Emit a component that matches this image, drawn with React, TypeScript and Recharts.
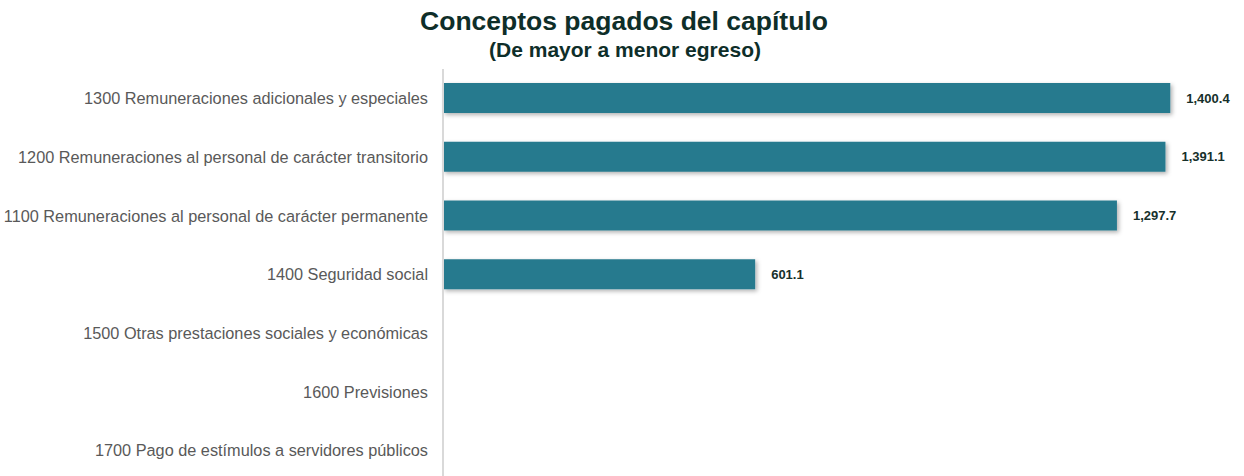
import React from 'react';
import { BarChart, Bar, XAxis, YAxis, LabelList } from 'recharts';

// Categorías (de mayor a menor egreso)
const CATEGORIES = [
  '1300 Remuneraciones adicionales y especiales',
  '1200 Remuneraciones al personal de carácter transitorio',
  '1100 Remuneraciones al personal de carácter permanente',
  '1400 Seguridad social',
  '1500 Otras prestaciones sociales y económicas',
  '1600 Previsiones',
  '1700 Pago de estímulos a servidores públicos',
];

// Monto pagado por concepto
const VALUES = [1400.4, 1391.1, 1297.7, 601.1, 0, 0, 0];

const TITLE = 'Conceptos pagados del capítulo';
const SUBTITLE = '(De mayor a menor egreso)';

const BAR_COLOR = '#287a8e';
const FONT = '"Liberation Sans", Arial, sans-serif';

const data = CATEGORIES.map((name, i) => ({ name, value: VALUES[i] }));

const formatValue = (v: any) =>
  typeof v === 'number' && v > 0
    ? v.toLocaleString('en-US', { minimumFractionDigits: 1, maximumFractionDigits: 1 })
    : '';

export default function App() {
  return (
    <div style={{ position: 'absolute', left: 0, top: 0, width: 1244, height: 476, overflow: 'hidden', background: '#fff', fontFamily: FONT }}>
      {/* filtro de sombra para las barras */}
      <svg width={0} height={0} style={{ position: 'absolute' }}>
        <defs>
          <filter id="barShadow" x="-5%" y="-30%" width="115%" height="180%">
            <feDropShadow dx="2" dy="2" stdDeviation="2" floodColor="#000" floodOpacity="0.3" />
          </filter>
        </defs>
      </svg>
      <div style={{ position: 'absolute', left: 0, width: 1248, top: 7.6, textAlign: 'center', fontWeight: 'bold', fontSize: 26.5, color: '#0e2e29', lineHeight: '26.5px', whiteSpace: 'nowrap' }}>
        {TITLE}
      </div>
      <div style={{ position: 'absolute', left: 0, width: 1250, top: 39, textAlign: 'center', fontWeight: 'bold', fontSize: 21, color: '#0e2e29', lineHeight: '21px', whiteSpace: 'nowrap' }}>
        {SUBTITLE}
      </div>
      <div style={{ position: 'absolute', left: 0, top: 0 }}>
        <BarChart
          width={1244}
          height={480}
          data={data}
          layout="vertical"
          margin={{ top: 69, right: 22, bottom: 0, left: 0 }}
          barCategoryGap={0}
        >
          <XAxis type="number" domain={[0, 1500]} hide />
          <YAxis
            type="category"
            dataKey="name"
            width={443}
            tickLine={false}
            tickSize={0}
            tickMargin={15}
            axisLine={{ stroke: '#d9d9d9', strokeWidth: 2 }}
            tick={{ fill: '#595959', fontSize: 16.3, fontFamily: FONT }}
            interval={0}
          />
          <Bar dataKey="value" fill={BAR_COLOR} barSize={30} isAnimationActive={false} style={{ filter: 'url(#barShadow)' }}>
            <LabelList
              dataKey="value"
              position="right"
              offset={16}
              formatter={formatValue}
              style={{ fill: '#16302b', fontSize: 13, fontWeight: 'bold', fontFamily: FONT }}
            />
          </Bar>
        </BarChart>
      </div>
    </div>
  );
}
